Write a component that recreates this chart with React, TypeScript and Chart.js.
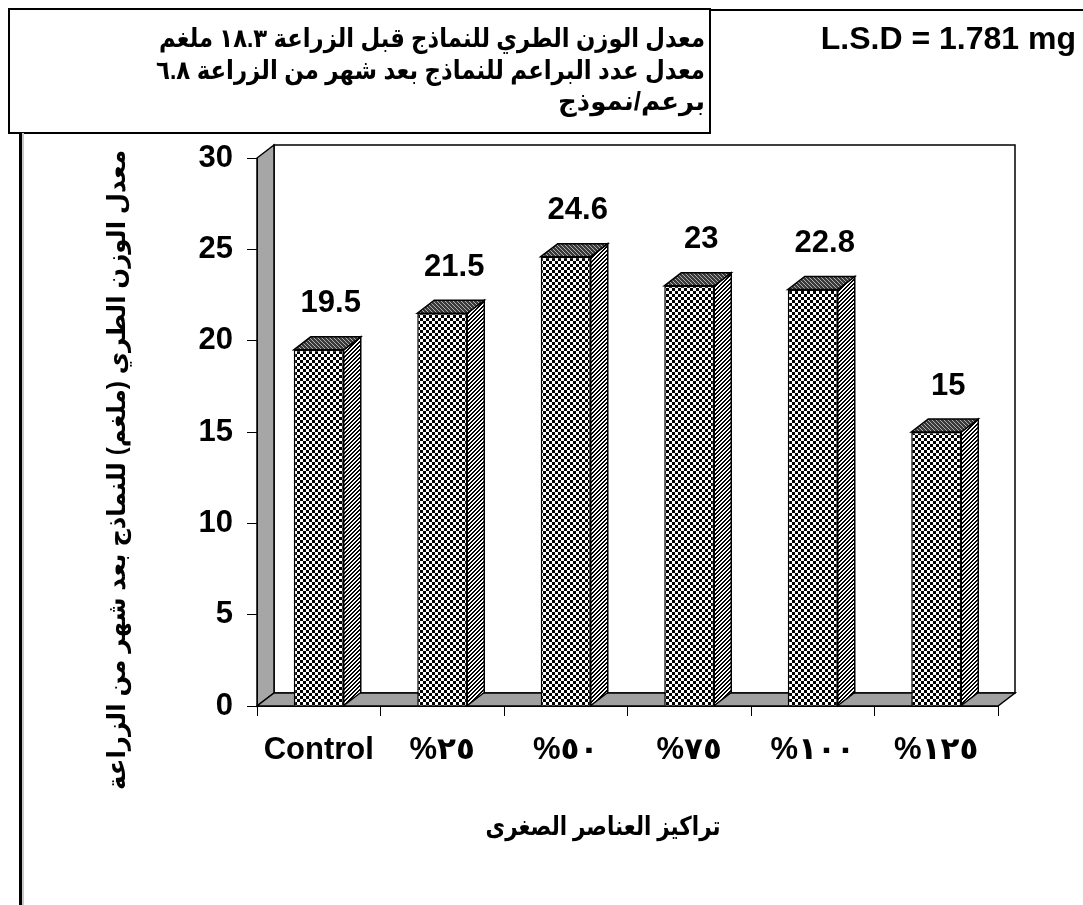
import React, { useEffect, useRef } from "react";
import { Chart, registerables } from "chart.js";

Chart.register(...registerables);

const categories = ["Control", "%٢٥", "%٥٠", "%٧٥", "%١٠٠", "%١٢٥"];
const values = [19.5, 21.5, 24.6, 23, 22.8, 15];
const yMin = 0;
const yMax = 30;
const yStep = 5;
const headerLines = [
  "معدل الوزن الطري للنماذج قبل الزراعة ١٨.٣ ملغم",
  "معدل عدد البراعم للنماذج بعد شهر من الزراعة ٦.٨",
  "برعم/نموذج",
];
const lsdText = "L.S.D = 1.781 mg";
const yTitle = "معدل الوزن الطري (ملغم) للنماذج بعد شهر من الزراعة";
const xTitle = "تراكيز العناصر الصغرى";

const FONT = '"Liberation Sans", Arial, "DejaVu Sans", sans-serif';
const DX = 17;
const DY = -13;
const W = 1083;
const H = 905;

function makePattern(kind: string): CanvasPattern | string {
  const c = document.createElement("canvas");
  const ctx = c.getContext("2d");
  if (!ctx) return "#888";
  if (kind === "front") {
    c.width = 6;
    c.height = 6;
    ctx.fillStyle = "#fff";
    ctx.fillRect(0, 0, 6, 6);
    ctx.fillStyle = "#000";
    ctx.fillRect(0, 0, 3, 3);
    ctx.fillRect(3, 3, 3, 3);
  } else if (kind === "side") {
    c.width = 4;
    c.height = 4;
    ctx.fillStyle = "#fff";
    ctx.fillRect(0, 0, 4, 4);
    ctx.fillStyle = "#000";
    for (let x = 0; x < 4; x++)
      for (let y = 0; y < 4; y++) if ((x + y) % 4 < 2) ctx.fillRect(x, y, 1, 1);
  } else {
    c.width = 4;
    c.height = 4;
    ctx.fillStyle = "#3a3a3a";
    ctx.fillRect(0, 0, 4, 4);
    ctx.fillStyle = "#b0b0b0";
    for (let x = 0; x < 4; x++)
      for (let y = 0; y < 4; y++) if ((x - y + 8) % 4 === 0) ctx.fillRect(x, y, 1, 1);
  }
  const p = ctx.createPattern(c, "repeat");
  return p || "#888";
}

export default function App() {
  const ref = useRef<HTMLCanvasElement | null>(null);

  useEffect(() => {
    const canvas = ref.current;
    if (!canvas) return;
    const frontPat = makePattern("front");
    const sidePat = makePattern("side");
    const topPat = makePattern("top");

    const framePlugin = {
      id: "frame3d",
      beforeDraw(chart: any) {
        const ctx = chart.ctx;
        const ys = chart.scales.y;
        const a = chart.chartArea;
        const L = a.left;
        const R = a.right;
        const T = ys.getPixelForValue(yMax);
        const B = ys.getPixelForValue(yMin);
        ctx.save();
        ctx.lineWidth = 1.5;
        ctx.strokeStyle = "#000";
        ctx.fillStyle = "#fff";
        ctx.beginPath();
        ctx.rect(L + DX, T + DY, R - L, B - T);
        ctx.fill();
        ctx.stroke();
        ctx.fillStyle = "#a6a6a6";
        ctx.beginPath();
        ctx.moveTo(L, B);
        ctx.lineTo(L, T);
        ctx.lineTo(L + DX, T + DY);
        ctx.lineTo(L + DX, B + DY);
        ctx.closePath();
        ctx.fill();
        ctx.stroke();
        ctx.fillStyle = "#a0a0a0";
        ctx.beginPath();
        ctx.moveTo(L, B);
        ctx.lineTo(R, B);
        ctx.lineTo(R + DX, B + DY);
        ctx.lineTo(L + DX, B + DY);
        ctx.closePath();
        ctx.fill();
        ctx.stroke();
        ctx.restore();
      },
      afterDatasetsDraw(chart: any) {
        const ctx = chart.ctx;
        const meta = chart.getDatasetMeta(0);
        ctx.save();
        ctx.lineWidth = 1.5;
        ctx.strokeStyle = "#000";
        meta.data.forEach((el: any, i: number) => {
          const { x, y, base, width } = el.getProps(["x", "y", "base", "width"], true);
          const l = x - width / 2;
          const r = x + width / 2;
          ctx.fillStyle = sidePat;
          ctx.beginPath();
          ctx.moveTo(r, y);
          ctx.lineTo(r + DX, y + DY);
          ctx.lineTo(r + DX, base + DY);
          ctx.lineTo(r, base);
          ctx.closePath();
          ctx.fill();
          ctx.stroke();
          ctx.fillStyle = topPat;
          ctx.beginPath();
          ctx.moveTo(l, y);
          ctx.lineTo(l + DX, y + DY);
          ctx.lineTo(r + DX, y + DY);
          ctx.lineTo(r, y);
          ctx.closePath();
          ctx.fill();
          ctx.stroke();
          ctx.fillStyle = "#000";
          ctx.font = `bold 31px ${FONT}`;
          ctx.textAlign = "center";
          ctx.textBaseline = "middle";
          ctx.fillText(String(values[i]), x + 12, y - 46);
        });
        ctx.restore();
      },
      afterDraw(chart: any) {
        const ctx = chart.ctx;
        ctx.save();
        ctx.strokeStyle = "#000";
        ctx.lineWidth = 2;
        ctx.strokeRect(9, 9, 701, 124);
        ctx.beginPath();
        ctx.moveTo(710, 10);
        ctx.lineTo(W, 10);
        ctx.stroke();
        ctx.fillStyle = "#c8c8c8";
        ctx.fillRect(22, 133, 2, H - 133);
        ctx.fillStyle = "#000";
        ctx.fillRect(19, 133, 3, H - 133);
        ctx.fillStyle = "#000";
        ctx.font = `bold 26px ${FONT}`;
        ctx.textAlign = "right";
        ctx.textBaseline = "middle";
        (ctx as any).direction = "rtl";
        const lineY = [40, 72, 103];
        const lineW = [546, 549, 150];
        headerLines.forEach((t, i) => ctx.fillText(t, 705, lineY[i], lineW[i]));
        (ctx as any).direction = "ltr";
        ctx.font = `bold 32px ${FONT}`;
        ctx.textAlign = "right";
        ctx.fillText(lsdText, 1076, 40);
        (ctx as any).direction = "rtl";
        ctx.font = `bold 26px ${FONT}`;
        ctx.textAlign = "center";
        ctx.fillText(xTitle, 603, 828, 235);
        ctx.translate(118, 470);
        ctx.rotate(-Math.PI / 2);
        ctx.font = `bold 25px ${FONT}`;
        ctx.fillText(yTitle, 0, 0, 640);
        ctx.restore();
      },
    };

    const chart = new Chart(canvas, {
      type: "bar",
      data: {
        labels: categories,
        datasets: [
          {
            data: values,
            backgroundColor: frontPat as any,
            borderColor: "#000",
            borderWidth: 1.5,
            barPercentage: 0.405,
            categoryPercentage: 1,
          },
        ],
      },
      options: {
        responsive: false,
        animation: false,
        devicePixelRatio: 1,
        layout: { padding: { top: 158, right: 85, left: 0, bottom: 0 } },
        plugins: {
          legend: { display: false },
          tooltip: { enabled: false },
          title: { display: false },
        },
        scales: {
          x: {
            offset: true,
            grid: {
              display: true,
              drawOnChartArea: false,
              drawTicks: true,
              tickLength: 10,
              color: "#000",
              offset: true,
            },
            border: { display: true, color: "#000", width: 1 },
            ticks: {
              color: "#000",
              font: { family: FONT, size: 31, weight: "bold" },
              padding: 16,
              maxRotation: 0,
              autoSkip: false,
            },
            afterFit: (s: any) => {
              s.height = H - 706;
            },
          },
          y: {
            min: yMin,
            max: yMax,
            grid: {
              display: true,
              drawOnChartArea: false,
              drawTicks: true,
              tickLength: 10,
              color: "#000",
            },
            border: { display: true, color: "#000", width: 1 },
            ticks: {
              stepSize: yStep,
              color: "#000",
              font: { family: FONT, size: 31, weight: "bold" },
              padding: 14,
            },
            afterFit: (s: any) => {
              s.width = 257;
            },
          },
        },
      },
      plugins: [framePlugin],
    });
    return () => chart.destroy();
  }, []);

  return (
    <div style={{ position: "absolute", left: 0, top: 0, width: W, height: H, background: "#fff" }}>
      <canvas ref={ref} width={W} height={H} style={{ width: W, height: H, display: "block" }} />
    </div>
  );
}
